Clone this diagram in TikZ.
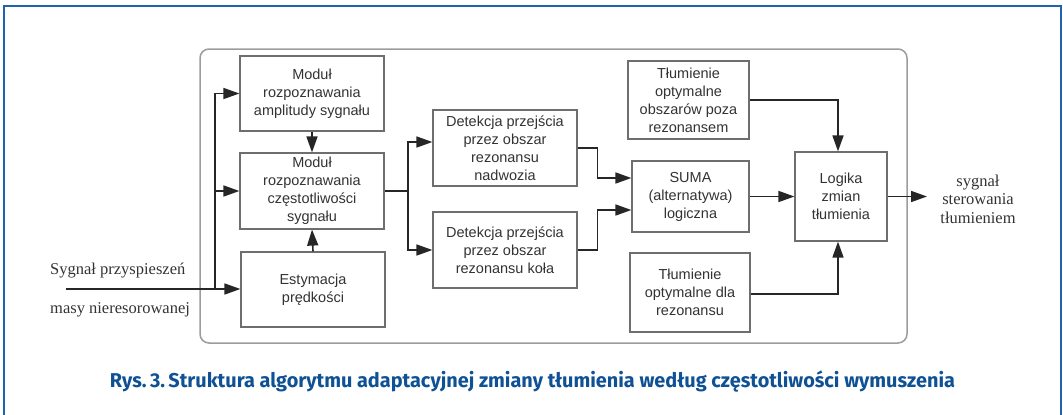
\documentclass[tikz,border=0pt]{standalone}
\usepackage{fontspec}
\usepackage{graphicx}
\setmainfont{Liberation Serif}
\newfontfamily\boxfont{Liberation Sans}
\newfontfamily\capfont{Fira Sans}
\usetikzlibrary{arrows.meta,calc}
\definecolor{frameblue}{HTML}{1F63AD}
\definecolor{capblue}{HTML}{0F5195}
\definecolor{boxline}{HTML}{6E6E6E}
\definecolor{boxtext}{HTML}{333333}
\definecolor{innerline}{HTML}{9C9C9C}
\tikzset{
  blk/.style={draw=boxline, line width=1.2pt, fill=white, inner sep=0pt,
    align=center, text=boxtext,
    font=\boxfont\fontsize{14.5pt}{18pt}\selectfont},
  arr/.style={line width=1.6pt, draw=black!85, -{Triangle[length=16pt,width=11pt]}},
  ln/.style={line width=1.6pt, draw=black!85},
  serif/.style={font=\fontsize{16.5pt}{18.5pt}\selectfont, text=black!80, inner sep=0pt}
}
\begin{document}
\begin{tikzpicture}[x=1pt,y=-1pt]
\useasboundingbox (0,0) rectangle (1063,415);
% outer blue frame (open at bottom)
\draw[frameblue, line width=1.6pt] (4,420) -- (4,6) -- (1061,6) -- (1061,420);
% inner rounded frame
\draw[innerline, line width=1.5pt, rounded corners=9pt] (200,49) rectangle (907,343);

% blocks
\node[blk, minimum width=144pt, minimum height=75pt] (amp) at (312,93.5) {Moduł\\rozpoznawania\\amplitudy sygnału};
\node[blk, minimum width=144pt, minimum height=76pt] (freq) at (312,191) {Moduł\\rozpoznawania\\częstotliwości\\sygnału};
\node[blk, minimum width=144pt, minimum height=75pt] (est) at (313,289.5) {Estymacja\\prędkości};
\node[blk, minimum width=144pt, minimum height=76pt] (det1) at (505,148) {Detekcja przejścia\\przez obszar\\rezonansu\\nadwozia};
\node[blk, minimum width=144pt, minimum height=76pt] (det2) at (505,250) {Detekcja przejścia\\przez obszar\\rezonansu koła};
\node[blk, minimum width=121pt, minimum height=78pt] (tl1) at (688.5,100) {Tłumienie\\optymalne\\obszarów poza\\rezonansem};
\node[blk, minimum width=117pt, minimum height=71pt] (suma) at (690.5,196.5) {SUMA\\(alternatywa)\\logiczna};
\node[blk, minimum width=120pt, minimum height=79pt] (tl2) at (690,292.5) {Tłumienie\\optymalne dla\\rezonansu};
\node[blk, minimum width=92pt, minimum height=89pt] (log) at (841,196.5) {Logika\\zmian\\tłumienia};

% texts
\node[serif, anchor=base west] (t1) at (50,274) {Sygnał przyspieszeń};
\node[serif, anchor=base west] (t2) at (50,313) {masy nieresorowanej};
\node[serif, align=center] (outt) at (978,199) {sygnał\\sterowania\\tłumieniem};

% coordinates
\coordinate (in) at (66,289);
\coordinate (br1) at (215,289);
\coordinate (br2) at (408,191);
\coordinate (out) at (927,196.5);

% connectors
\draw[arr] (in) -- (est.west |- in);
\draw[arr] (br1) |- (amp.west);
\draw[arr] (br1) |- (freq.west);
\draw[arr] (amp.south) -- (freq.north);
\draw[arr] (est.north) -- (freq.south);
\draw[ln] (freq.east) -- (br2);
\draw[arr] (br2) |- ([yshift=6pt]det1.west);
\draw[arr] (br2) |- (det2.west);
\draw[arr] (det1.east) -- ++(20,0) |- ([yshift=18.5pt]suma.west);
\draw[arr] (det2.east) -- ++(20,0) |- ([yshift=-13.5pt]suma.west);
\draw[arr] (suma.east) -- (log.west);
\draw[arr] (tl1.east) -| ([xshift=-3pt]log.north);
\draw[arr] ([yshift=-1.5pt]tl2.east) -| ([xshift=-3pt]log.south);
\draw[arr] (log.east) -- (out);

% caption
\node[anchor=base, text=capblue, inner sep=0pt] (cap) at (532.5,387.5)
  {\resizebox{845pt}{\height}{\capfont\bfseries\fontsize{20pt}{24pt}\selectfont Rys.\,3.\,Struktura algorytmu adaptacyjnej zmiany tłumienia według częstotliwości wymuszenia}};
\end{tikzpicture}
\end{document}
